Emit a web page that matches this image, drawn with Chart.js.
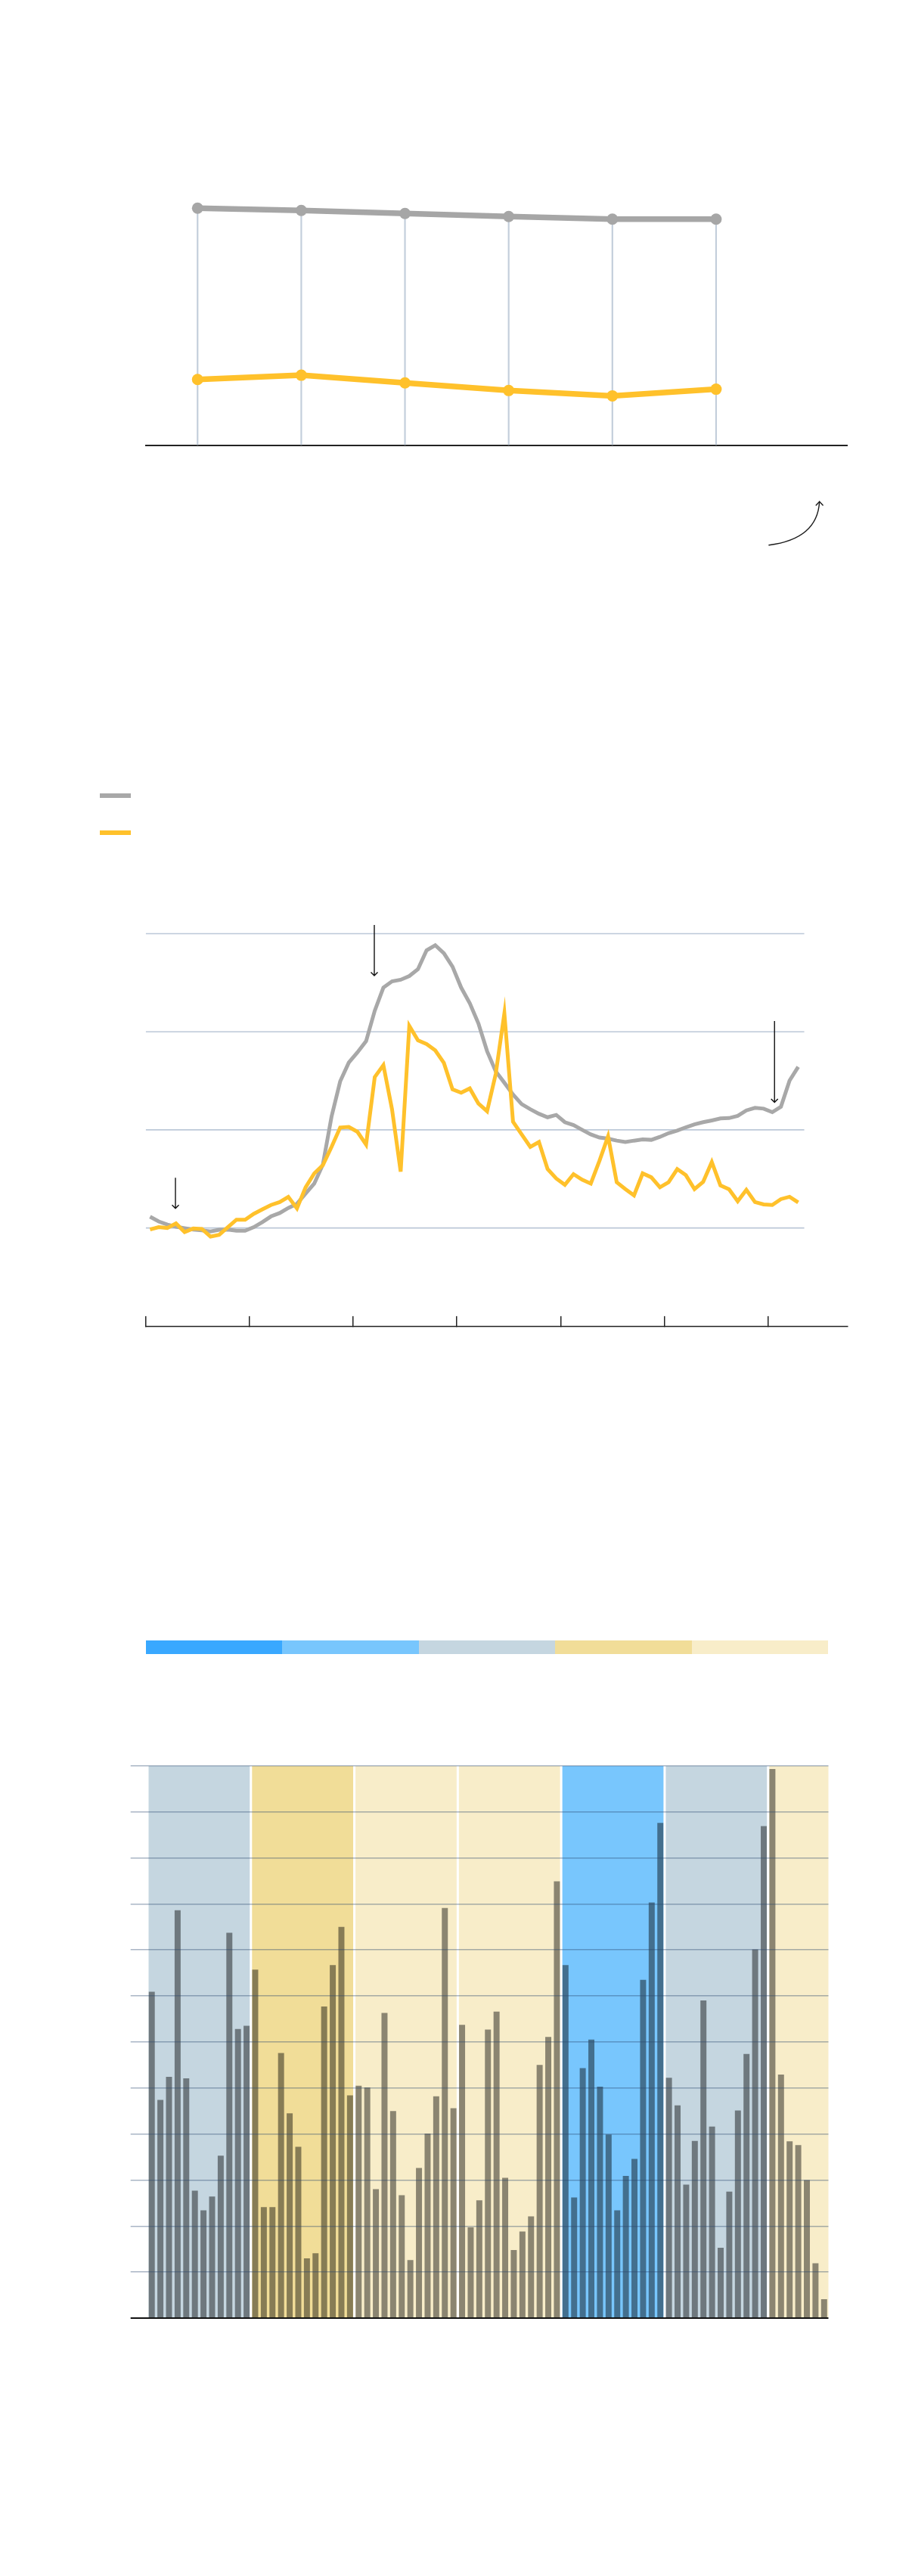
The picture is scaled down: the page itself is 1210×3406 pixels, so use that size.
<!DOCTYPE html>
<html><head><meta charset="utf-8">
<script src="https://cdn.jsdelivr.net/npm/chart.js@4.4.1/dist/chart.umd.min.js"></script>
<style>
html,body{margin:0;padding:0;background:#fff;}
#page{position:relative;width:1210px;height:3406px;background:#fff;overflow:hidden;}
canvas{position:absolute;left:0;}
.sw{position:absolute;}
</style></head><body>
<div id="page">
<canvas id="c1" width="1210" height="660" style="top:100px"></canvas>
<div class="sw" style="left:132px;top:1049px;width:41px;height:6px;background:#a8a8a8"></div>
<div class="sw" style="left:132px;top:1098px;width:41px;height:6px;background:#ffc12b"></div>
<canvas id="c2" width="1210" height="600" style="top:1180px"></canvas>
<div id="scaleBar" style="position:absolute;left:193px;top:2169px;width:902px;height:17.5px;display:flex"></div>
<canvas id="c3" width="1210" height="800" style="top:2300px"></canvas>
</div>
<script>
// ---------- Chart 1 data ----------
const gray1 = [71.2, 70.5, 69.6, 68.7, 67.9, 67.9];
const yellow1 = [19.7, 21.0, 18.7, 16.4, 14.8, 16.8];
const yearsSpan1 = 6.767;
// curved annotation arrow (data units)
const curve1X = [6.01, 6.285, 6.482, 6.497];
const curve1Y = [-30.05, -28.98, -25.34, -17.0];

// ---------- Chart 2 data (monthly) ----------
const gray2 = [55.7,53.3,51.7,50.6,49.9,49.2,48.8,48.2,49.1,49.2,48.6,48.6,
  50.4,53.0,55.9,57.6,60.2,62.3,67.5,72.6,82.3,106.7,124.7,134.3,
  139.5,145.2,160.7,172.5,175.7,176.5,178.4,181.9,191.5,194.1,190.0,183.2,
  172.5,164.5,154.2,140.1,129.8,124.0,118.0,113.1,110.5,108.2,106.4,107.6,
  103.9,102.4,100.0,97.7,96.1,95.5,94.5,93.8,94.5,95.1,94.9,96.4,
  98.3,99.6,101.3,102.8,103.9,104.8,105.8,106.0,107.1,109.9,111.2,110.8,
  109.0,111.8,125.1,132.1];
const yellow2 = [49.2,50.4,50.0,52.3,47.9,49.7,49.5,45.6,46.5,50.4,54.2,54.2,
  57.2,59.5,61.7,63.2,65.8,60.0,70.7,77.8,82.0,91.3,101.2,101.5,
  99.0,92.5,126.9,133.0,110.5,78.7,153.0,145.6,143.7,140.5,134.1,120.6,
  118.9,121.1,113.4,109.5,128.5,159.4,104.1,97.7,91.3,93.8,80.0,75.2,
  72.0,77.4,74.6,72.6,84.2,96.7,73.3,69.8,66.6,77.8,75.8,70.7,
  73.3,80.0,76.9,69.8,73.5,83.6,71.7,69.7,63.6,69.4,63.2,62.0,
  61.7,64.7,65.9,63.0];
const gridVals2 = [50, 100, 150, 200];
const gridEnd2 = 76.2;
const tickMonths2 = [0, 12, 24, 36, 48, 60, 72];
const arrowX2 = [3.44, 26.45, 72.76];
const arrowTop2 = [75.6, 204.4, 155.5];
const arrowTip2 = [60.0, 178.6, 114.0];

// ---------- Chart 3 data (monthly bars) ----------
const bars3 = [70.9,47.4,52.4,88.6,52.1,27.7,23.4,26.4,35.3,83.7,62.8,63.5,
  75.7,24.1,24.1,57.6,44.5,37.2,13.0,14.1,67.7,76.7,85.0,48.4,
  50.5,50.1,28.0,66.3,45.0,26.7,12.6,32.6,40.1,48.2,89.1,45.6,
  63.7,19.7,25.6,62.7,66.6,30.5,14.8,18.8,22.1,55.0,61.1,94.9,
  76.7,26.2,54.3,60.5,50.3,39.9,23.4,30.9,34.6,73.5,90.3,107.6,
  52.2,46.2,29.0,38.5,69.0,41.6,15.3,27.5,45.1,57.4,80.1,106.9,
  119.3,52.9,38.4,37.6,30.0,11.9,4.1];
const scaleColors = ['#39a8ff', '#78c6fd', '#c5d6e0', '#f1dd98', '#f8edc9'];
const yearClass3 = [2, 3, 4, 4, 1, 2, 4];
const yMax3 = 120;

// legend scale bar
const sb = document.getElementById('scaleBar');
scaleColors.forEach(c => { const d = document.createElement('div'); d.style.flex = '1'; d.style.background = c; sb.appendChild(d); });

const common = {
  responsive: false, animation: false, events: [],
  plugins: { legend: { display: false }, tooltip: { enabled: false } }
};

// ---------- Chart 1 ----------
const curvePlugin = {
  id: 'curve1',
  afterDraw(chart) {
    const { ctx, scales: { x, y } } = chart;
    const px = curve1X.map(v => x.getPixelForValue(v));
    const py = curve1Y.map(v => y.getPixelForValue(v));
    ctx.save();
    ctx.strokeStyle = '#1a1a1a'; ctx.lineWidth = 1.4; ctx.lineCap = 'round';
    ctx.beginPath();
    ctx.moveTo(px[0], py[0]);
    ctx.bezierCurveTo(px[1], py[1], px[2], py[2], px[3], py[3]);
    ctx.stroke();
    ctx.beginPath();
    ctx.moveTo(px[3] - 4.5, py[3] + 4.8);
    ctx.lineTo(px[3], py[3]);
    ctx.lineTo(px[3] + 4.5, py[3] + 4.8);
    ctx.stroke();
    ctx.restore();
  }
};
new Chart(document.getElementById('c1'), {
  type: 'line',
  data: { datasets: [
    { type: 'line', data: gray1.map((v, i) => ({ x: i + 0.5, y: v })), borderColor: '#a6a6a6', backgroundColor: '#a6a6a6',
      borderWidth: 7.5, pointRadius: 7.5, pointBorderWidth: 0, pointBackgroundColor: '#a6a6a6', order: 1 },
    { type: 'line', data: yellow1.map((v, i) => ({ x: i + 0.5, y: v })), borderColor: '#ffc12b', backgroundColor: '#ffc12b',
      borderWidth: 7.5, pointRadius: 7.5, pointBorderWidth: 0, pointBackgroundColor: '#ffc12b', order: 0 },
    { type: 'bar', data: gray1.map((v, i) => ({ x: i + 0.5, y: v })), backgroundColor: '#c3cedb', barThickness: 1.5, order: 5 }
  ] },
  options: Object.assign({}, common, {
    layout: { padding: { left: 192.7, right: 89.3, top: 48.5, bottom: 171.5 } },
    scales: {
      x: { type: 'linear', min: 0, max: yearsSpan1, offset: false, display: true,
        grid: { display: false }, ticks: { display: false },
        border: { display: true, color: '#222', width: 2 },
        afterFit(s) { s.height = 0; } },
      y: { type: 'linear', min: 0, max: 100, display: false }
    }
  }),
  plugins: [curvePlugin]
});

// ---------- Chart 2 ----------
const arrowPlugin = {
  id: 'arrows2',
  afterDatasetsDraw(chart) {
    const { ctx, scales: { x, y } } = chart;
    ctx.save();
    ctx.strokeStyle = '#111'; ctx.lineWidth = 1.4;
    arrowX2.forEach((ax, k) => {
      const px = x.getPixelForValue(ax);
      const pt = y.getPixelForValue(arrowTop2[k]);
      const pb = y.getPixelForValue(arrowTip2[k]);
      ctx.beginPath();
      ctx.moveTo(px, pt); ctx.lineTo(px, pb);
      ctx.moveTo(px - 4.5, pb - 4.5); ctx.lineTo(px, pb); ctx.lineTo(px + 4.5, pb - 4.5);
      ctx.stroke();
    });
    ctx.restore();
  }
};
const grid2Sets = gridVals2.map(v => ({
  type: 'line', data: [{ x: 0, y: v }, { x: gridEnd2, y: v }], borderColor: '#bcc8d8', borderWidth: 1.6,
  pointRadius: 0, order: 10
}));
new Chart(document.getElementById('c2'), {
  type: 'line',
  data: { datasets: [
    ...grid2Sets,
    { data: gray2.map((v, i) => ({ x: i + 0.5, y: v })), borderColor: '#a8a8a8', borderWidth: 5, pointRadius: 0, order: 2 },
    { data: yellow2.map((v, i) => ({ x: i + 0.5, y: v })), borderColor: '#ffc12b', borderWidth: 5, pointRadius: 0, order: 1 }
  ] },
  options: Object.assign({}, common, {
    layout: { padding: { left: 192.7, right: 89.3, top: 41.5, bottom: 26.7 } },
    scales: {
      x: { type: 'linear', min: 0, max: 81.2, offset: false, display: true,
        afterBuildTicks(s) { s.ticks = tickMonths2.map(v => ({ value: v })); },
        ticks: { display: false },
        grid: { drawOnChartArea: false, drawTicks: true, tickLength: -13, color: '#222', lineWidth: 1.5 },
        border: { display: true, color: '#222', width: 1.5 },
        afterFit(s) { s.height = 0; } },
      y: { type: 'linear', min: 0, max: 205, display: false }
    }
  }),
  plugins: [arrowPlugin]
});

// ---------- Chart 3 ----------
const bandData = yearClass3.map((c, k) => ({ x: k * 12 + 6, y: yMax3 }));
const bandColors = yearClass3.map(c => scaleColors[c]);
new Chart(document.getElementById('c3'), {
  type: 'bar',
  data: {
    labels: bars3.map((_, i) => String(i + 1)),
    datasets: [
      { data: bars3, xAxisID: 'x', grouped: false, backgroundColor: 'rgba(0,0,0,0.44)', categoryPercentage: 1, barPercentage: 0.7, order: 1 },
      { data: bandData, xAxisID: 'xb', grouped: false, backgroundColor: bandColors, categoryPercentage: 1, barPercentage: 0.978, order: 2 }
    ]
  },
  options: Object.assign({}, common, {
    layout: { padding: { left: 172.7, right: 114.5, top: 34.7, bottom: 35 } },
    scales: {
      x: { type: 'category', offset: true, display: false },
      xb: { type: 'linear', min: 0, max: bars3.length, offset: false, display: false,
        afterBuildTicks(s) { s.ticks = yearClass3.map((c, k) => ({ value: k * 12 })); } },
      y: { type: 'linear', min: 0, max: yMax3,
        ticks: { display: false, stepSize: 10 },
        border: { display: false },
        grid: { z: 1, tickLength: 22.3,
          color: c => (c.tick && c.tick.value === 0) ? '#111' : 'rgba(40,70,110,0.4)',
          lineWidth: c => (c.tick && c.tick.value === 0) ? 2 : 1.5 },
        afterFit(s) { s.width = 22.3; } }
    }
  })
});
</script>
</body></html>
